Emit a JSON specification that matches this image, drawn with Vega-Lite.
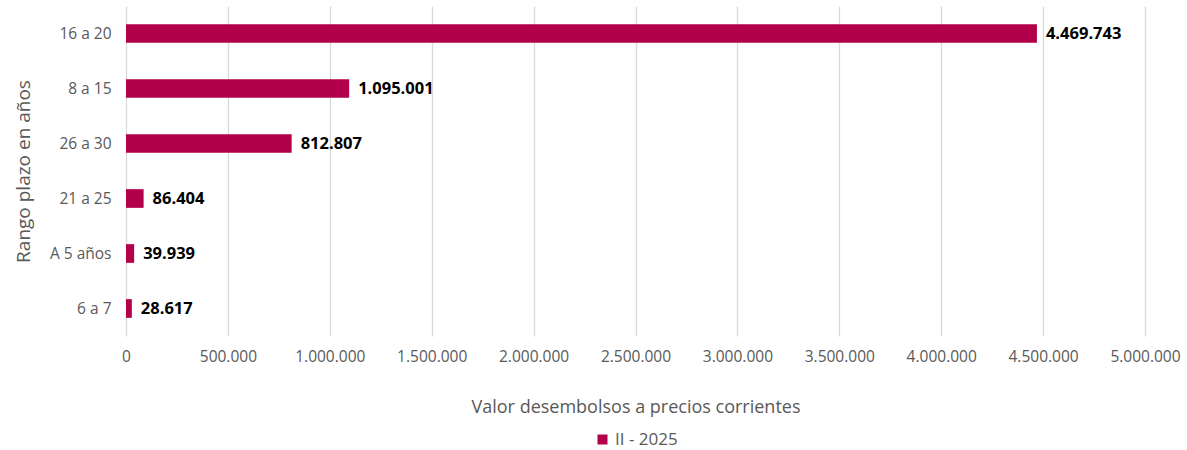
{
  "$schema": "https://vega.github.io/schema/vega-lite/v6.json",
  "width": 1019,
  "height": 330,
  "autosize": {"type": "none"},
  "padding": {"left": 126, "top": 6, "right": 42, "bottom": 114},
  "background": "white",
  "config": {
    "locale": {"number": {"decimal": ",", "thousands": ".", "grouping": [3], "currency": ["$", ""]}},
    "view": {"stroke": null},
    "font": "Open Sans"
  },
  "data": {
    "values": [
      {"rango": "16 a 20", "valor": 4469743, "serie": "II - 2025"},
      {"rango": "8 a 15", "valor": 1095001, "serie": "II - 2025"},
      {"rango": "26 a 30", "valor": 812807, "serie": "II - 2025"},
      {"rango": "21 a 25", "valor": 86404, "serie": "II - 2025"},
      {"rango": "A 5 años", "valor": 39939, "serie": "II - 2025"},
      {"rango": "6 a 7", "valor": 28617, "serie": "II - 2025"}
    ]
  },
  "encoding": {
    "y": {
      "field": "rango",
      "type": "nominal",
      "sort": null,
      "scale": {"paddingInner": 0.66, "paddingOuter": 0.33},
      "title": "Rango plazo en años",
      "axis": {
        "domain": false,
        "ticks": false,
        "labelPadding": 15,
        "labelFontSize": 15.5,
        "labelColor": "#595959",
        "titleFontSize": 19,
        "titleFontWeight": "normal",
        "titleColor": "#595959",
        "titlePadding": 16
      }
    },
    "x": {
      "field": "valor",
      "type": "quantitative",
      "scale": {"domain": [0, 5000000], "nice": false},
      "title": "Valor desembolsos a precios corrientes",
      "axis": {
        "values": [0, 500000, 1000000, 1500000, 2000000, 2500000, 3000000, 3500000, 4000000, 4500000, 5000000],
        "format": ",d",
        "labelFlush": false,
        "labelOverlap": false,
        "domain": false,
        "ticks": false,
        "grid": true,
        "gridColor": "#D9D9D9",
        "gridWidth": 1.3,
        "labelPadding": 13,
        "labelFontSize": 15.5,
        "labelColor": "#595959",
        "titleFontSize": 18,
        "titleFontWeight": "normal",
        "titleColor": "#595959",
        "titlePadding": 34
      }
    }
  },
  "layer": [
    {
      "mark": {"type": "bar"},
      "encoding": {
        "color": {
          "field": "serie",
          "type": "nominal",
          "scale": {"range": ["#B3004B"]},
          "legend": {
            "title": null,
            "orient": "none",
            "legendX": 468,
            "legendY": 425,
            "symbolType": "square",
            "symbolSize": 100,
            "labelFontSize": 17,
            "labelColor": "#595959",
            "labelOffset": 4
          }
        }
      }
    },
    {
      "mark": {"type": "text", "align": "left", "dx": 9, "fontWeight": "bold", "fontSize": 16.5, "color": "#000000"},
      "encoding": {
        "text": {"field": "valor", "type": "quantitative", "format": ",d"}
      }
    }
  ]
}
